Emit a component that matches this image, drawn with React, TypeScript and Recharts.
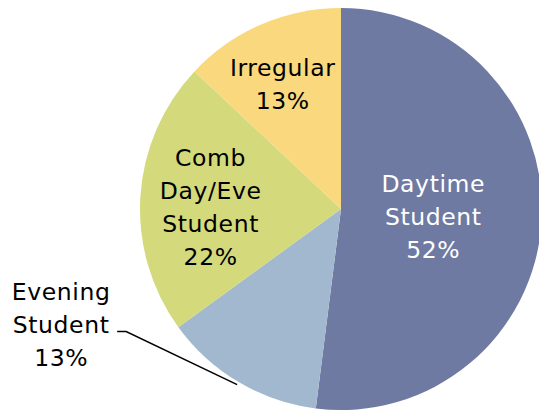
import React from "react";
import { PieChart, Pie, Cell } from "recharts";

const categories = ["Daytime Student", "Evening Student", "Comb Day/Eve Student", "Irregular"];
const shares = [52, 13, 22, 13];
const colors = ["#6F7AA2", "#A1B8CE", "#D4D97C", "#F9D87E"];
const textColors = ["#FFFFFF", "#000000", "#000000", "#000000"];

const data = categories.map((name, i) => ({ name, value: shares[i] }));

const RAD = Math.PI / 180;
const LINE_H = 33;
const FONT = 23.5;

// label placement: radius factor (inside) and small tweaks
const labelCfg: Record<number, { r: number; dx: number; dy: number; outside?: boolean }> = {
  0: { r: 0.46, dx: 0, dy: 2 },
  1: { r: 1.0, dx: 0, dy: 0, outside: true },
  2: { r: 0.65, dx: 0, dy: 7 },
  3: { r: 0.68, dx: -4, dy: 1 },
};

function renderLabel(props: any) {
  const { cx, cy, midAngle, outerRadius, index, name, value } = props;
  const cfg = labelCfg[index];
  const lines = [...String(name).split(" "), `${value}%`];
  const cos = Math.cos(-midAngle * RAD);
  const sin = Math.sin(-midAngle * RAD);
  const textProps = {
    textAnchor: "middle" as const,
    fill: textColors[index],
    fontSize: FONT,
    fontFamily: "DejaVu Sans",
    letterSpacing: 0.6,
  };
  if (cfg.outside) {
    const ex = cx + (outerRadius + 3) * cos;
    const ey = cy + (outerRadius + 3) * sin;
    const mx = ex - 111;
    const my = ey - 53;
    const hx = mx - 9;
    const tx = hx - 56;
    const ty = my - 7;
    const startY = ty - ((lines.length - 1) * LINE_H) / 2 + 8;
    return (
      <g key={`l${index}`}>
        <polyline points={`${ex},${ey} ${mx},${my} ${hx},${my}`} fill="none" stroke="#000" strokeWidth={1.5} />
        <text x={tx} y={startY} {...textProps}>
          {lines.map((l, i) => (
            <tspan key={i} x={tx} y={startY + i * LINE_H}>{l}</tspan>
          ))}
        </text>
      </g>
    );
  }
  const r = outerRadius * cfg.r;
  const x = cx + r * cos + cfg.dx;
  const y = cy + r * sin + cfg.dy;
  const startY = y - ((lines.length - 1) * LINE_H) / 2 + 8;
  return (
    <text key={`l${index}`} x={x} y={startY} {...textProps}>
      {lines.map((l, i) => (
        <tspan key={i} x={x} y={startY + i * LINE_H}>{l}</tspan>
      ))}
    </text>
  );
}

export default function App() {
  return (
    <div style={{ position: "absolute", left: 0, top: 0, width: 539, height: 412, background: "#fff" }}>
      <PieChart width={539} height={412} margin={{ top: 0, right: 0, bottom: 0, left: 0 }}>
        <Pie
          data={data}
          dataKey="value"
          nameKey="name"
          cx={341}
          cy={209}
          outerRadius={201}
          startAngle={90}
          endAngle={-270}
          stroke="none"
          label={renderLabel}
          labelLine={false}
          isAnimationActive={false}
        >
          {data.map((d, i) => (
            <Cell key={d.name} fill={colors[i]} />
          ))}
        </Pie>
      </PieChart>
    </div>
  );
}
